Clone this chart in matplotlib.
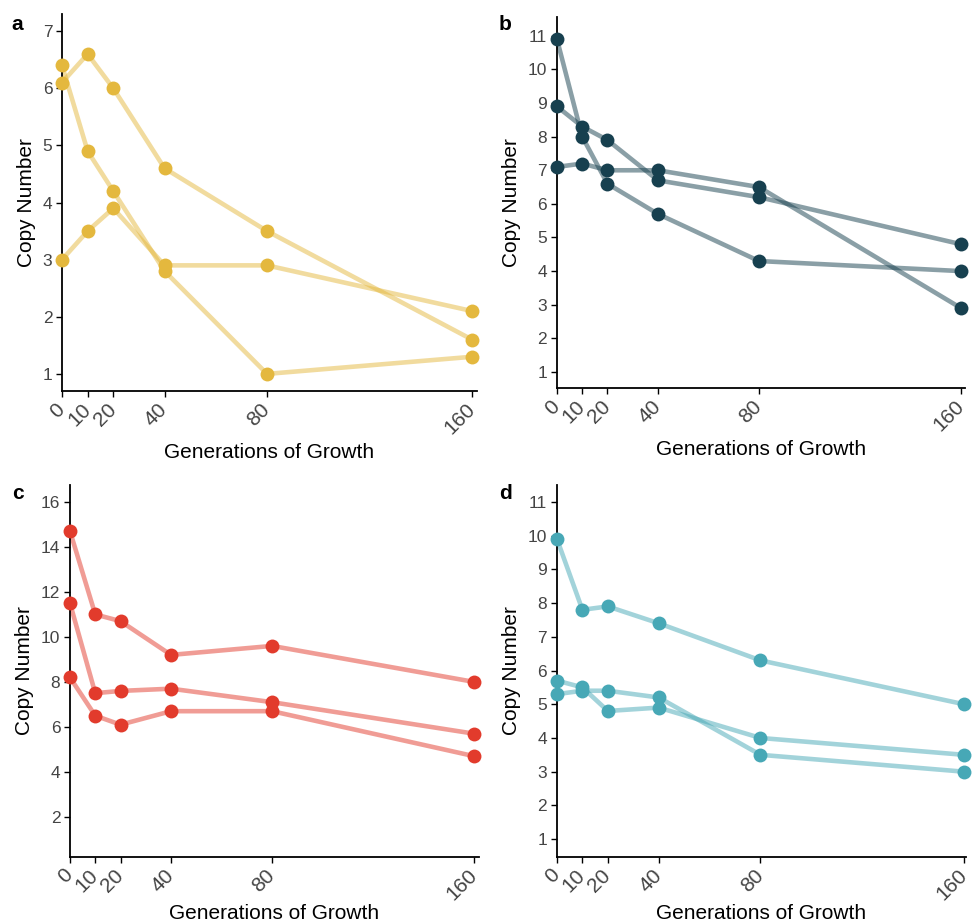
import matplotlib
matplotlib.use('Agg')
from matplotlib import pyplot as plt

plt.rcParams['font.family'] = ['Liberation Sans', 'DejaVu Sans']

generations = [0, 10, 20, 40, 80, 160]
xtick_labels = ['0', '10', '20', '40', '80', '160']

# panel a
a_s1 = [6.1, 6.6, 6.0, 4.6, 3.5, 1.6]
a_s2 = [6.4, 4.9, 4.2, 2.8, 1.0, 1.3]
a_s3 = [3.0, 3.5, 3.9, 2.9, 2.9, 2.1]
# panel b
b_s1 = [10.9, 8.0, 6.6, 5.7, 4.3, 4.0]
b_s2 = [8.9, 8.3, 7.9, 6.7, 6.2, 4.8]
b_s3 = [7.1, 7.2, 7.0, 7.0, 6.5, 2.9]
# panel c
c_s1 = [14.7, 11.0, 10.7, 9.2, 9.6, 8.0]
c_s2 = [11.5, 7.5, 7.6, 7.7, 7.1, 5.7]
c_s3 = [8.2, 6.5, 6.1, 6.7, 6.7, 4.7]
# panel d
d_s1 = [9.9, 7.8, 7.9, 7.4, 6.3, 5.0]
d_s2 = [5.7, 5.5, 4.8, 4.9, 4.0, 3.5]
d_s3 = [5.3, 5.4, 5.4, 5.2, 3.5, 3.0]

panels = [
    ('a', [a_s1, a_s2, a_s3], '#E4B83E', [1, 2, 3, 4, 5, 6, 7], (0.7, 7.3), 161.9,
     [0.0638, 0.5768, 0.4269, 0.408], (0.012, 0.974), 4),
    ('b', [b_s1, b_s2, b_s3], '#17404F', list(range(1, 12)), (0.52, 11.56), 161.6,
     [0.573, 0.580, 0.4198, 0.4016], (0.513, 0.973), 4),
    ('c', [c_s1, c_s2, c_s3], '#E23B2C', [2, 4, 6, 8, 10, 12, 14, 16], (0.22, 16.75), 161.9,
     [0.072, 0.0725, 0.4208, 0.4026], (0.012, 0.466), 0),
    ('d', [d_s1, d_s2, d_s3], '#47A8B6', list(range(1, 12)), (0.47, 11.5), 160.8,
     [0.573, 0.0725, 0.4208, 0.4026], (0.513, 0.466), 0),
]

fig = plt.figure(figsize=(9.72, 9.24), dpi=100)

for letter, series, color, yticks, ylim, xmax, pos, lpos, xpad in panels:
    ax = fig.add_axes(pos)
    for s in series:
        ax.plot(generations, s, color=color, alpha=0.5, lw=3.3, zorder=2,
                solid_capstyle='round', clip_on=False)
        ax.plot(generations, s, 'o', color=color, ms=10, mew=0, zorder=3, clip_on=False)
    ax.set_xlim(0, xmax)
    ax.set_ylim(*ylim)
    ax.set_yticks(yticks)
    ax.set_xticks(generations)
    ax.set_xticklabels(xtick_labels, rotation=45, ha='right', va='center',
                       rotation_mode='anchor')
    for side in ['top', 'right']:
        ax.spines[side].set_visible(False)
    for side in ['left', 'bottom']:
        ax.spines[side].set_linewidth(1.3)
    ax.tick_params(axis='both', labelcolor='#444444', width=1.0, length=4)
    ax.tick_params(axis='y', labelsize=12.5, pad=3)
    ax.tick_params(axis='x', labelsize=15, pad=7)
    ax.set_ylabel('Copy Number', fontsize=15, labelpad=5)
    ax.set_xlabel('Generations of Growth', fontsize=15, labelpad=xpad)
    fig.text(lpos[0], lpos[1], letter, fontsize=15, fontweight='bold',
             ha='left', va='center')

fig.savefig('out.png', dpi=100)
